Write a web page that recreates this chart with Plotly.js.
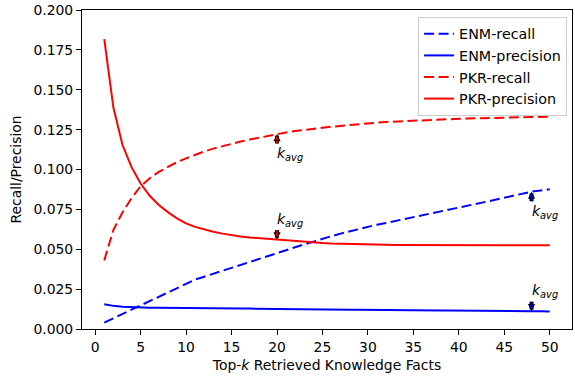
<!DOCTYPE html>
<html>
<head>
<meta charset="utf-8">
<script src="https://cdn.plot.ly/plotly-3.0.1.min.js"></script>
<style>html,body{margin:0;padding:0;background:#fff;}#chart{width:575px;height:376px;}</style>
</head>
<body>
<div id="chart"></div>
<script>
const k = [1,2,3,4,5,6,7,8,9,10,11,12,13,14,15,16,17,18,19,20,21,22,23,24,25,26,27,28,29,30,31,32,33,34,35,36,37,38,39,40,41,42,43,44,45,46,47,48,49,50];
const enmRecall = [0.0040,0.0067,0.0094,0.0121,0.0148,0.0175,0.0202,0.0229,0.0256,0.0283,0.0310,0.0328,0.0346,0.0364,0.0382,0.0400,0.0419,0.0438,0.0456,0.0475,0.0494,0.0513,0.0531,0.0549,0.0566,0.0582,0.0598,0.0613,0.0628,0.0642,0.0654,0.0665,0.0677,0.0688,0.0700,0.0711,0.0723,0.0735,0.0746,0.0759,0.0772,0.0784,0.0797,0.0810,0.0823,0.0836,0.0848,0.0861,0.0869,0.0876];
const enmPrecision = [0.0155,0.0145,0.0140,0.0137,0.0135,0.0134,0.0133,0.0133,0.0133,0.0133,0.0133,0.0132,0.0131,0.0130,0.0130,0.0129,0.0128,0.0127,0.0126,0.0125,0.0125,0.0124,0.0124,0.0123,0.0123,0.0122,0.0122,0.0121,0.0121,0.0120,0.0120,0.0119,0.0119,0.0118,0.0118,0.0117,0.0117,0.0116,0.0116,0.0115,0.0115,0.0114,0.0114,0.0113,0.0113,0.0112,0.0112,0.0111,0.0111,0.0110];
const pkrRecall = [0.0430,0.0620,0.0730,0.0820,0.0895,0.0945,0.0985,0.1018,0.1046,0.1070,0.1093,0.1113,0.1131,0.1147,0.1162,0.1175,0.1188,0.1200,0.1212,0.1223,0.1232,0.1241,0.1249,0.1256,0.1262,0.1268,0.1274,0.1280,0.1285,0.1290,0.1294,0.1298,0.1301,0.1304,0.1307,0.1310,0.1312,0.1314,0.1316,0.1318,0.1320,0.1321,0.1323,0.1324,0.1325,0.1327,0.1328,0.1329,0.1330,0.1331];
const pkrPrecision = [0.1818,0.1390,0.1155,0.1015,0.0912,0.0835,0.0778,0.0733,0.0694,0.0662,0.0640,0.0624,0.0610,0.0598,0.0588,0.0580,0.0574,0.0569,0.0565,0.0561,0.0556,0.0551,0.0546,0.0542,0.0539,0.0536,0.0534,0.0532,0.0530,0.0529,0.0528,0.0528,0.0527,0.0527,0.0527,0.0526,0.0526,0.0526,0.0526,0.0526,0.0525,0.0525,0.0525,0.0525,0.0525,0.0525,0.0525,0.0525,0.0525,0.0525];
const seriesNames = ['ENM-recall','ENM-precision','PKR-recall','PKR-precision'];
const yTicks = [0,0.025,0.05,0.075,0.1,0.125,0.15,0.175,0.2];
const xTicks = [0,5,10,15,20,25,30,35,40,45,50];
const kavgMarks = [
  {x:20, series:pkrRecall, dir:'up', fill:'#c00000'},
  {x:20, series:pkrPrecision, dir:'down', fill:'#c00000'},
  {x:48, series:enmRecall, dir:'up', fill:'#0000c0'},
  {x:48, series:enmPrecision, dir:'down', fill:'#0000c0'}
];

const dash = '10px,4.5px';
const traces = [
  {x:k, y:enmRecall, name:seriesNames[0], mode:'lines', line:{color:'#0000ff', width:2, dash:dash}},
  {x:k, y:enmPrecision, name:seriesNames[1], mode:'lines', line:{color:'#0000ff', width:2}},
  {x:k, y:pkrRecall, name:seriesNames[2], mode:'lines', line:{color:'#ff0000', width:2, dash:dash}},
  {x:k, y:pkrPrecision, name:seriesNames[3], mode:'lines', line:{color:'#ff0000', width:2}}
];

const annotations = [];
kavgMarks.forEach(m => {
  const yv = m.series[k.indexOf(m.x)];
  const s = m.dir === 'up' ? 1 : -1;
  const arrowBase = {x:m.x, y:yv, xref:'x', yref:'y', ax:0, ay:s*11, text:'', showarrow:true, arrowhead:2};
  annotations.push(Object.assign({}, arrowBase, {arrowcolor:'#000', arrowwidth:4, arrowsize:0.36}));
  annotations.push(Object.assign({}, arrowBase, {arrowcolor:m.fill, arrowwidth:2, arrowsize:0.4, standoff:1.5}));
  annotations.push({x:m.x, y:yv, xref:'x', yref:'y', showarrow:false, xanchor:'left', yanchor:'middle',
    xshift:-2, yshift:-s*20, text:'<i>k<sub>avg</sub></i>', font:{family:'DejaVu Sans', size:14, color:'#000'}});
});

const axisCommon = {showline:true, linecolor:'#000', linewidth:1, mirror:true, ticks:'outside', ticklen:5, tickwidth:1, tickcolor:'#000', showgrid:false, zeroline:false, tickfont:{family:'DejaVu Sans', size:13.9, color:'#000'}};

const layout = {
  width:575, height:376,
  margin:{l:82, r:3, t:10, b:47},
  paper_bgcolor:'#fff', plot_bgcolor:'#fff',
  font:{family:'DejaVu Sans', size:13.9, color:'#000'},
  xaxis:Object.assign({}, axisCommon, {range:[-1.45,52.45], tickvals:xTicks, ticktext:xTicks.map(String),
    title:{text:'Top-<i>k</i> Retrieved Knowledge Facts', font:{family:'DejaVu Sans', size:13.9}, standoff:6}}),
  yaxis:Object.assign({}, axisCommon, {range:[0,0.2], tickvals:yTicks, ticktext:yTicks.map(v=>v.toFixed(3)),
    title:{text:'Recall/Precision', font:{family:'DejaVu Sans', size:13.9}, standoff:8}}),
  showlegend:true,
  legend:{x:0.99, y:0.978, xanchor:'right', yanchor:'top', bgcolor:'rgba(255,255,255,0.8)', bordercolor:'#cccccc', borderwidth:1, font:{family:'DejaVu Sans', size:14.3}, tracegroupgap:0, itemwidth:30},
  annotations:annotations
};

Plotly.newPlot('chart', traces, layout, {displayModeBar:false, staticPlot:true});
</script>
</body>
</html>
